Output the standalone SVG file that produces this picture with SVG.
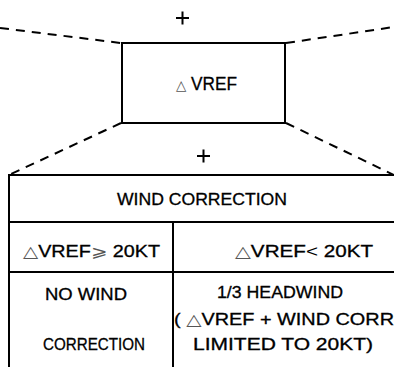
<svg xmlns="http://www.w3.org/2000/svg" width="394" height="367" viewBox="0 0 394 367">
<style>
.ln{stroke:#000;stroke-width:2;fill:none}
.ds{stroke:#000;stroke-width:2;fill:none;stroke-dasharray:9,7}
.t{font-family:"Liberation Sans","DejaVu Sans",sans-serif;font-size:16px;fill:#000;stroke:#000;stroke-width:0.3}
.tri{font-family:"DejaVu Sans",sans-serif;fill:#555;stroke:none}
</style>
<rect width="394" height="367" fill="#fff"/>
<g id="connectors">
<line class="ds" x1="0" y1="28" x2="121" y2="43"/>
<line class="ds" x1="286" y1="43" x2="394" y2="27"/>
<line class="ds" x1="121" y1="123" x2="9" y2="175"/>
<line class="ds" x1="286" y1="123" x2="394" y2="175"/>
</g>
<g id="plus-top"><path class="ln" d="M176 18h13M182.5 11.5v13"/></g>
<g id="plus-bottom"><path class="ln" d="M197 156h13M203.5 149.5v13"/></g>
<g id="vref-box">
<rect class="ln" x="122" y="43" width="163" height="80"/>
<text x="176" y="90" class="t" style="font-size:18px" textLength="61" lengthAdjust="spacingAndGlyphs"><tspan class="tri" style="font-size:14px">△</tspan> VREF</text>
</g>
<g id="table">
<path class="ln" d="M9 367V175H394M9 222H394M9 272H394M173 222V367"/>
<text x="117" y="205" class="t" textLength="170" lengthAdjust="spacingAndGlyphs">WIND CORRECTION</text>
<text x="23" y="257" class="t" textLength="137" lengthAdjust="spacingAndGlyphs"><tspan class="tri">△</tspan>VREF<tspan class="tri" fill="#000">⩾</tspan> 20KT</text>
<text x="235" y="257" class="t" textLength="138" lengthAdjust="spacingAndGlyphs"><tspan class="tri">△</tspan>VREF<tspan fill="#000" style="stroke:none">&lt;</tspan> 20KT</text>
<text x="45" y="300" class="t" textLength="82" lengthAdjust="spacingAndGlyphs">NO WIND</text>
<text x="43" y="350" class="t" textLength="102" lengthAdjust="spacingAndGlyphs">CORRECTION</text>
<text x="217" y="298" class="t" textLength="126" lengthAdjust="spacingAndGlyphs">1/3 HEADWIND</text>
<text x="174" y="325" class="t" textLength="220" lengthAdjust="spacingAndGlyphs">( <tspan class="tri">△</tspan>VREF + WIND CORR</text>
<text x="193" y="350" class="t" textLength="180" lengthAdjust="spacingAndGlyphs">LIMITED TO 20KT)</text>
</g>
</svg>
